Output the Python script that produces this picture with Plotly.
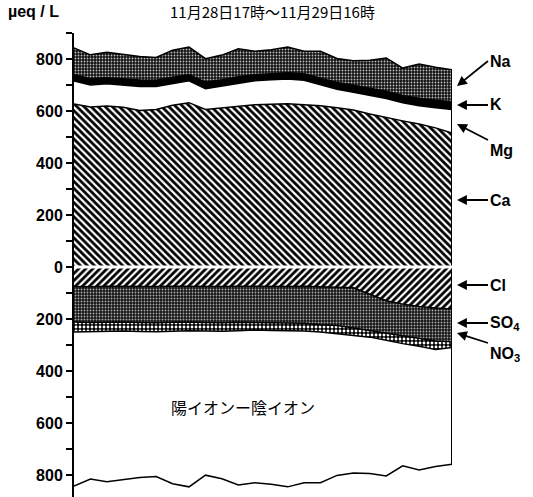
import numpy as np
import plotly.graph_objects as go

hours = list(range(24))  # 17時 (11/28) ... 16時 (11/29)

# cations (µeq/L)
ca = [627, 615, 619, 614, 602, 606, 622, 632, 606, 612, 620, 624, 626, 628, 624, 620, 612, 604, 588, 574, 562, 550, 535, 515]
mg = [88, 85, 86, 86, 92, 88, 84, 84, 80, 84, 88, 92, 94, 95, 94, 82, 72, 68, 72, 74, 70, 70, 77, 91]
k = [24, 24, 23, 24, 25, 24, 24, 23, 25, 24, 24, 23, 24, 24, 25, 25, 26, 27, 27, 28, 28, 29, 29, 30]
na = [104, 92, 98, 95, 91, 88, 104, 107, 90, 95, 107, 91, 92, 99, 87, 103, 92, 94, 108, 128, 105, 132, 127, 123]

# anions (µeq/L, plotted downward)
cl = [75, 76, 74, 75, 76, 75, 74, 75, 76, 75, 74, 75, 76, 75, 74, 76, 78, 80, 105, 130, 143, 152, 158, 162]
so4 = [137, 138, 139, 137, 138, 140, 139, 137, 138, 140, 139, 139, 139, 141, 143, 146, 147, 155, 140, 125, 122, 123, 127, 126]
no3 = [38, 34, 34, 34, 34, 34, 34, 33, 32, 32, 32, 29, 29, 29, 29, 28, 31, 27, 25, 27, 30, 30, 33, 22]
# cation - anion
diff = [593, 568, 579, 573, 562, 557, 587, 601, 555, 568, 594, 587, 592, 601, 584, 580, 546, 531, 525, 522, 470, 476, 450, 449]

ytick_vals = [-800, -600, -400, -200, 0, 200, 400, 600, 800]
ytick_text = ["800", "600", "400", "200", "0", "200", "400", "600", "800"]

W, H = 533, 497
PL, PR, PT, PB = 74, 452, 33, 497  # plot area in page pixels
ML, MT, MR, MB = PL, PT, W - PR, H - PB


def px(xp, yp):
    return (xp - PL) / (PR - PL), 1 - (yp - PT) / (PB - PT)


fig = go.Figure()
edge = dict(color="black", width=1.5)


def area(y, group, pattern=None, fillcolor=None):
    kw = dict(x=hours, y=y, mode="lines", stackgroup=group, line=edge,
              hoverinfo="skip", showlegend=False)
    if pattern is not None:
        kw["fillpattern"] = pattern
        kw["fillcolor"] = pattern.get("bgcolor", "white")
    else:
        kw["fillcolor"] = fillcolor
    fig.add_trace(go.Scatter(**kw))


# positive stack
area(ca, "pos", dict(shape="\\", fgcolor="black", bgcolor="white", size=5, solidity=0.55, fillmode="replace"))
area(mg, "pos", fillcolor="white")
area(k, "pos", fillcolor="black")
area(na, "pos", dict(shape=".", fgcolor="#bbbbbb", bgcolor="#111111", size=3, solidity=0.3, fillmode="replace"))

# negative stack
neg = lambda v: [-a for a in v]
area(neg(cl), "neg", dict(shape="/", fgcolor="black", bgcolor="white", size=5, solidity=0.55, fillmode="replace"))
area(neg(so4), "neg", dict(shape=".", fgcolor="#aaaaaa", bgcolor="#151515", size=3, solidity=0.3, fillmode="replace"))
area(neg(no3), "neg", dict(shape=".", fgcolor="white", bgcolor="black", size=4, solidity=0.4, fillmode="replace"))
area(neg(diff), "neg", fillcolor="rgba(0,0,0,0)")

# right edge
top_last = ca[-1] + mg[-1] + k[-1] + na[-1]
bot_last = -(cl[-1] + so4[-1] + no3[-1] + diff[-1])
fig.add_trace(go.Scatter(x=[hours[-1], hours[-1]], y=[top_last, bot_last], mode="lines",
                         line=dict(color="black", width=2), hoverinfo="skip", showlegend=False))

fig.add_shape(type="line", xref="x", yref="y", x0=hours[0], x1=hours[-1], y0=0, y1=0,
              line=dict(color="white", width=3))

bold = dict(family="Liberation Sans, Arial, sans-serif", size=16, color="black", weight="bold")
jp = dict(family="Noto Sans CJK JP", size=15, color="black")

annotations = []
# label, arrow head (px), arrow tail = left edge of label box (px), yanchor of label
labels = [
    ("Na", (457, 86), (488, 61), "middle"),
    ("K", (457, 105), (488, 105), "middle"),
    ("Mg", (457, 124), (488, 140), "top"),
    ("Ca", (457, 200), (488, 200), "middle"),
    ("Cl", (457, 285), (488, 285), "middle"),
    ("SO<sub>4</sub>", (457, 323), (488, 323), "middle"),
    ("NO<sub>3</sub>", (457, 333), (488, 343), "top"),
]
for text, head, tail, yanc in labels:
    hx, hy = px(*head)
    annotations.append(dict(xref="paper", yref="paper", x=hx, y=hy, text=text, showarrow=True,
                            axref="pixel", ayref="pixel", ax=tail[0] - head[0], ay=tail[1] - head[1],
                            xanchor="left", yanchor=yanc, font=bold,
                            arrowhead=2, arrowsize=1.1, arrowwidth=1.8, arrowcolor="black"))

tx, ty = px(6, 12)
annotations.append(dict(xref="paper", yref="paper", x=tx, y=ty, text="µeq / L", showarrow=False,
                        xanchor="left", yanchor="middle", font=bold))
tx, ty = px(272, 12)
annotations.append(dict(xref="paper", yref="paper", x=tx, y=ty, text="11月28日17時〜11月29日16時",
                        showarrow=False, xanchor="center", yanchor="middle", font=jp))
tx, ty = px(243, 407)
annotations.append(dict(xref="paper", yref="paper", x=tx, y=ty, text="陽イオンー陰イオン",
                        showarrow=False, xanchor="center", yanchor="middle",
                        font=dict(family="Noto Sans CJK JP", size=16, color="black")))

fig.update_layout(
    width=W, height=H,
    margin=dict(l=ML, r=MR, t=MT, b=MB, pad=0),
    plot_bgcolor="white", paper_bgcolor="white",
    showlegend=False,
    annotations=annotations,
    xaxis=dict(range=[hours[0], hours[-1]], visible=False),
    yaxis=dict(range=[-885, 900], showline=True, linecolor="black", linewidth=2,
               ticks="outside", ticklen=6, tickwidth=2, tickcolor="black",
               tickvals=ytick_vals, ticktext=ytick_text, tickfont=bold,
               showgrid=False, zeroline=False,
               minor=dict(tickvals=list(range(-900, 901, 100)), ticks="outside", ticklen=6,
                          tickwidth=1.5, tickcolor="black", showgrid=False)),
)

fig.write_html("out.html", config={"displayModeBar": False},
               post_script="document.body.style.margin='0';document.body.style.overflow='hidden';")
